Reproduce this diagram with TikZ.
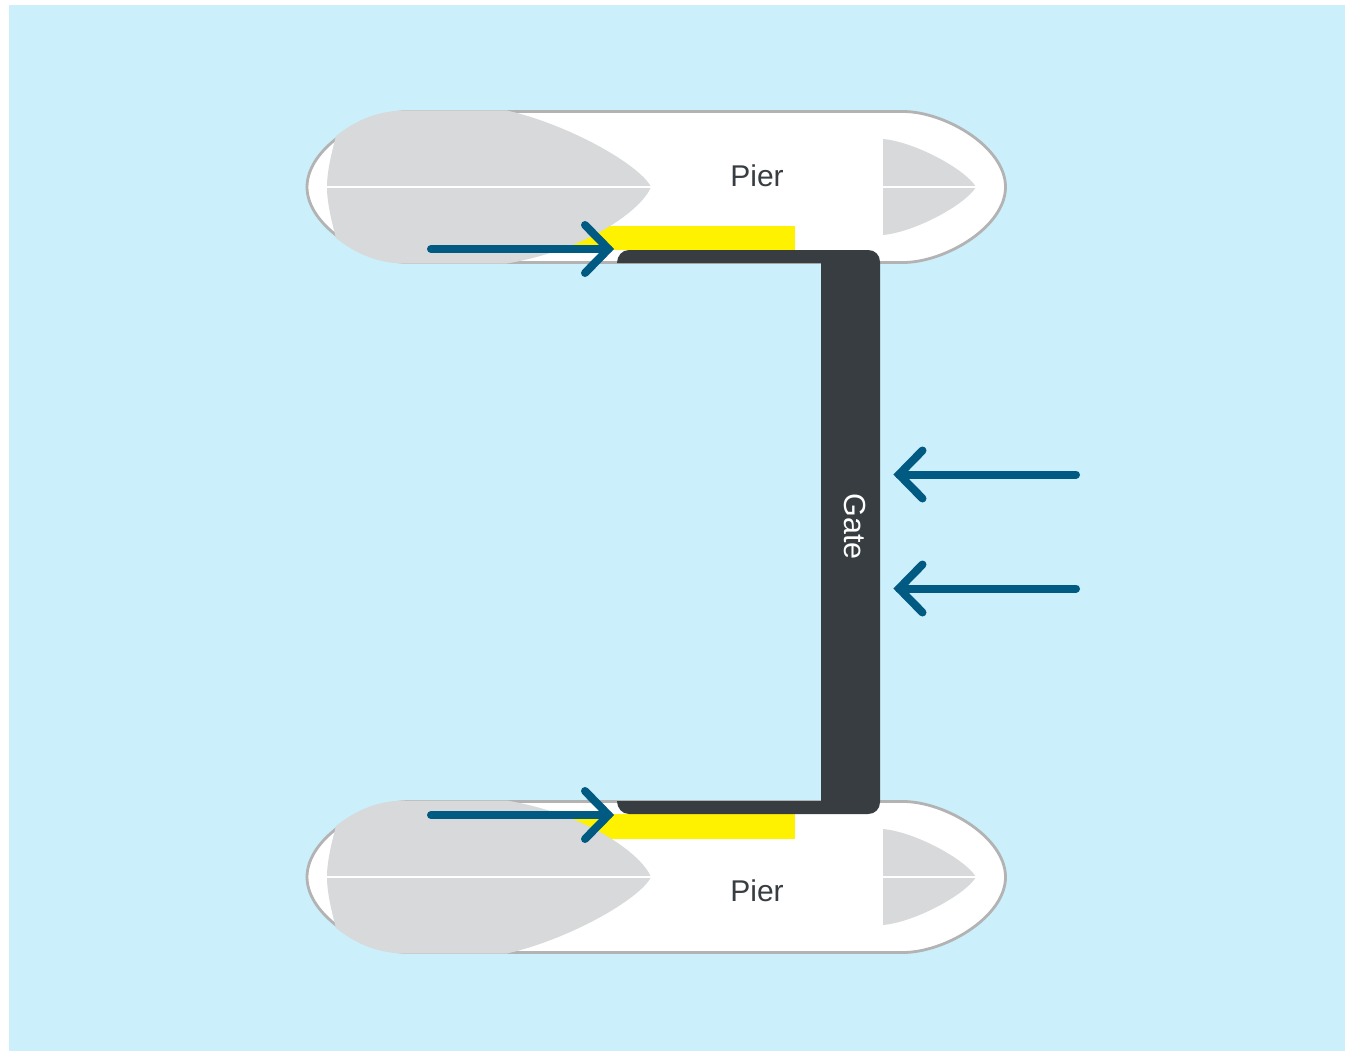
\documentclass[tikz,border=0pt]{standalone}
\usepackage{fontspec}
\setmainfont{Liberation Sans}
\definecolor{bgblue}{HTML}{CBEFFB}
\definecolor{pierline}{HTML}{B3B3B3}
\definecolor{piergrey}{HTML}{D7D9DB}
\definecolor{markyellow}{HTML}{FFF200}
\definecolor{gatedark}{HTML}{373D40}
\definecolor{flowblue}{HTML}{005A82}
\tikzset{
  pierbody/.style={fill=white,draw=pierline,line width=2.8pt},
  piershade/.style={fill=piergrey,draw=none},
  axisline/.style={draw=white,line width=2.9pt},
  gatebody/.style={fill=gatedark,draw=none},
  flowline/.style={draw=flowblue,line width=8pt,line cap=round,line join=miter},
  labeltext/.style={font=\fontsize{30}{34}\selectfont,inner sep=0pt}
}
\begin{document}
\begin{tikzpicture}[x=1pt,y=-1pt]
\useasboundingbox (0,0) rectangle (1352,1051);
\fill[bgblue] (9,5) rectangle (1345,1051);
\foreach \cy/\ya/\yb/\ua/\ub/\la/\lb in {187/226/250/570/640/590/642,877/814/839/590/642/570/640}{
  \begin{scope}[shift={(0,\cy)}]
    \path[pierbody] (409.5,-75.5) -- (903,-75.5)
      .. controls (945,-75.5) and (1005.5,-40) .. (1005.5,0)
      .. controls (1005.5,40) and (945,75.5) .. (903,75.5)
      -- (409.5,75.5)
      .. controls (367.5,75.5) and (307,40) .. (307,0)
      .. controls (307,-40) and (367.5,-75.5) .. (409.5,-75.5) -- cycle;
  \end{scope}
  \fill[markyellow] (540,\ya) rectangle (795,\yb);
  \begin{scope}[shift={(0,\cy)}]
    \path[piershade] (336,-51)
      .. controls (352,-64) and (375,-76.5) .. (405,-76.5)
      -- (507,-76.5)
      .. controls (\ua,-62) and (\ub,-22) .. (651,0)
      .. controls (\lb,22) and (\la,62) .. (507,76.5)
      -- (405,76.5)
      .. controls (375,76.5) and (352,64) .. (336,51)
      .. controls (331,32) and (327,15) .. (327,0)
      .. controls (327,-15) and (331,-32) .. (336,-51) -- cycle;
    \path[piershade] (883,-48)
      .. controls (915,-45) and (965,-18) .. (976,0)
      .. controls (965,18) and (915,45) .. (883,48) -- cycle;
    \path[axisline] (327,0) -- (651,0);
    \path[axisline] (883,0) -- (976,0);
  \end{scope}
}
\path[gatebody] (617,263) .. controls (617,256) and (622,250) .. (629,250)
  -- (868,250) .. controls (875,250) and (880,255) .. (880,262)
  -- (880,802) .. controls (880,809) and (875,814) .. (868,814)
  -- (629,814) .. controls (622,814) and (617,808) .. (617,801)
  -- (821,801) -- (821,263) -- cycle;
\path[flowline] (431,249) -- (608.5,249);
\path[flowline] (585,225) -- (608.5,249) -- (585,273);
\path[flowline] (431,815) -- (608.5,815);
\path[flowline] (585,791) -- (608.5,815) -- (585,839);
\path[flowline] (1076,474.5) -- (899,474.5);
\path[flowline] (922.5,450.5) -- (899,474.5) -- (922.5,498.5);
\path[flowline] (1076,588.5) -- (899,588.5);
\path[flowline] (922.5,564.5) -- (899,588.5) -- (922.5,612.5);
\node[labeltext,text=gatedark,anchor=base] (pierA) at (757,187) {Pier};
\node[labeltext,text=gatedark,anchor=base] (pierB) at (757,901) {Pier};
\node[labeltext,text=white,anchor=base,rotate=-90,font=\fontsize{30.5}{34}\selectfont] (gateLabel) at (844.5,526.5) {Gate};
\end{tikzpicture}
\end{document}
